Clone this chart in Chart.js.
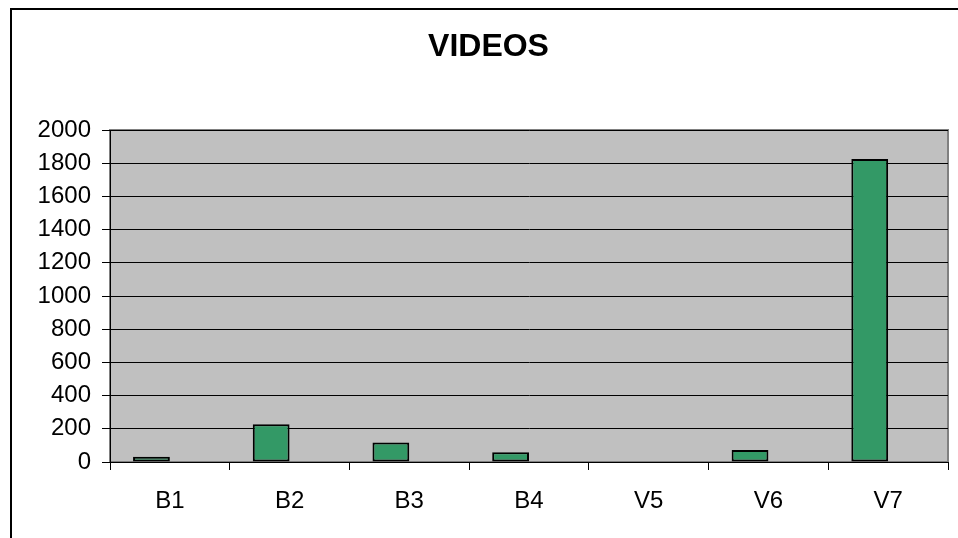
<!DOCTYPE html>
<html>
<head>
<meta charset="utf-8">
<script src="https://cdn.jsdelivr.net/npm/chart.js@4/dist/chart.umd.min.js"></script>
<style>
  html, body { margin: 0; padding: 0; background: #fff; overflow: hidden; }
  #wrap { width: 958px; height: 538px; position: relative; }
</style>
</head>
<body>
<div id="wrap"><canvas id="c" width="958" height="538"></canvas></div>
<script>
// Video counts per site
const categories = ['B1', 'B2', 'B3', 'B4', 'V5', 'V6', 'V7'];
const videos = [32, 227, 118, 58, 0, 72, 1826];
// Second series of the workbook has no entries, but still reserves its slot
const secondSeries = [null, null, null, null, null, null, null];
const yTicks = [0, 200, 400, 600, 800, 1000, 1200, 1400, 1600, 1800, 2000];

const FONT = "'Liberation Sans', Arial, sans-serif";

// Gray plot background, plot frame and the outer chart frame
const framePlugin = {
  id: 'frame',
  beforeDraw(chart) {
    const { ctx, chartArea: a } = chart;
    ctx.save();
    ctx.fillStyle = '#fff';
    ctx.fillRect(0, 0, chart.width, chart.height);
    ctx.fillStyle = '#C0C0C0';
    ctx.fillRect(a.left, a.top, a.right - a.left, a.bottom - a.top);
    ctx.strokeStyle = '#808080';
    ctx.lineWidth = 2;
    ctx.strokeRect(a.left, a.top, a.right - a.left, a.bottom - a.top);
    ctx.strokeStyle = '#000';
    ctx.lineWidth = 2;
    ctx.strokeRect(11, 9, 1000, 700);
    ctx.restore();
  }
};

new Chart(document.getElementById('c'), {
  type: 'bar',
  data: {
    labels: categories,
    datasets: [
      {
        label: 'Videos',
        data: videos,
        backgroundColor: '#339966',
        borderColor: '#000',
        borderWidth: 2,
        borderSkipped: false,
        categoryPercentage: 0.615,
        barPercentage: 1.0
      },
      {
        label: 'Series 2',
        data: secondSeries,
        backgroundColor: '#993366',
        borderColor: '#000',
        borderWidth: 2,
        categoryPercentage: 0.615,
        barPercentage: 1.0
      }
    ]
  },
  options: {
    responsive: false,
    animation: false,
    devicePixelRatio: 1,
    layout: { padding: { left: 29, right: 10, top: 0, bottom: 0 } },
    plugins: {
      legend: { display: false },
      tooltip: { enabled: false },
      title: {
        display: true,
        text: 'VIDEOS',
        color: '#000',
        font: { family: FONT, size: 32, weight: 'bold', lineHeight: 1.2 },
        padding: { top: 28, bottom: 63.6 }
      }
    },
    scales: {
      x: {
        offset: true,
        grid: {
          offset: true,
          drawOnChartArea: false,
          drawTicks: true,
          tickLength: 8,
          color: '#000',
          lineWidth: 1
        },
        border: { display: true, color: '#000', width: 1 },
        ticks: {
          color: '#000',
          font: { family: FONT, size: 24 },
          padding: 17,
          maxRotation: 0
        },
        afterFit(scale) { scale.height = 76; }
      },
      y: {
        min: 0,
        max: 2000,
        afterBuildTicks(scale) { scale.ticks = yTicks.map(v => ({ value: v })); },
        grid: {
          color: '#000',
          lineWidth: 1,
          drawTicks: true,
          tickLength: 8
        },
        border: { display: true, color: '#000', width: 1 },
        ticks: {
          color: '#000',
          font: { family: FONT, size: 24 },
          padding: 11,
          callback: (v) => String(v)
        },
        afterFit(scale) { scale.width = 81; }
      }
    }
  },
  plugins: [framePlugin]
});
</script>
</body>
</html>
